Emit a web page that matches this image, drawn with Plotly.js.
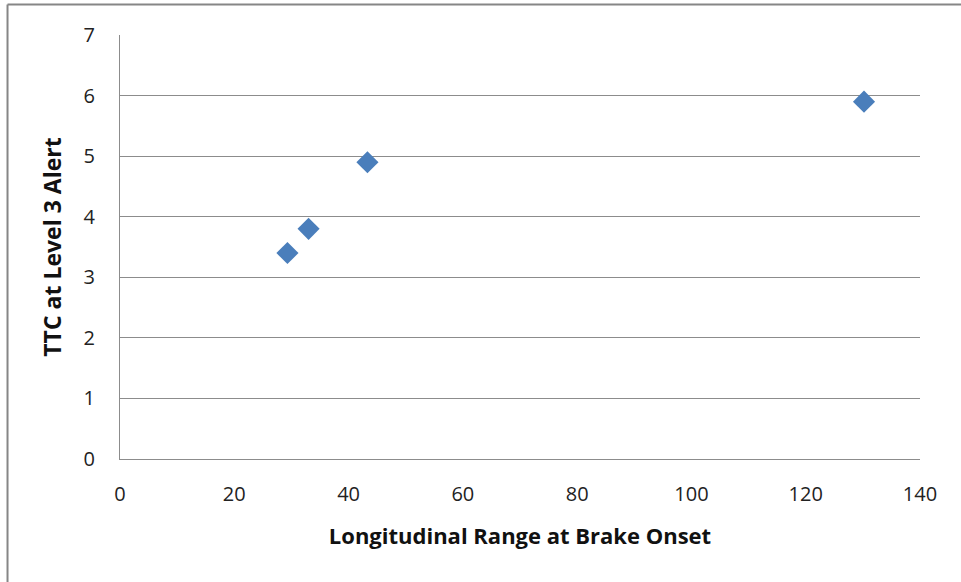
<!DOCTYPE html>
<html>
<head>
<meta charset="utf-8">
<script src="https://cdn.plot.ly/plotly-3.0.1.min.js"></script>
<style>
  html, body { margin: 0; padding: 0; background: #ffffff; }
  #chart { width: 961px; height: 582px; }
</style>
</head>
<body>
<div id="chart"></div>
<script>
// Longitudinal range at brake onset vs. time-to-collision at the level 3 alert
const rangeAtBrakeOnset = [29.3, 33.0, 43.3, 130.2];
const ttcAtLevel3Alert = [3.4, 3.8, 4.9, 5.9];
const xTicks = [0, 20, 40, 60, 80, 100, 120, 140];
const yTicks = [0, 1, 2, 3, 4, 5, 6, 7];

const tickFont = '"Open Sans", Lato, "DejaVu Sans", sans-serif';
const titleFont = '"Open Sans", Lato, "DejaVu Sans", sans-serif';
const gray = '#8c8c8c';

const trace = {
  type: 'scatter',
  mode: 'markers',
  x: rangeAtBrakeOnset,
  y: ttcAtLevel3Alert,
  marker: { symbol: 'diamond', size: 17, color: '#4a7ebb', line: { width: 0 } },
  hoverinfo: 'x+y'
};

const layout = {
  width: 961,
  height: 582,
  margin: { l: 120, r: 41, t: 35, b: 123 },
  paper_bgcolor: '#ffffff',
  plot_bgcolor: '#ffffff',
  showlegend: false,
  font: { family: tickFont, size: 20, color: '#222222' },
  xaxis: {
    range: [0, 140],
    tickvals: xTicks,
    ticktext: xTicks.map(String),
    showgrid: false,
    zeroline: false,
    showline: true,
    linecolor: gray,
    linewidth: 1,
    ticks: '',
    ticklabelstandoff: 17,
    tickfont: { family: tickFont, size: 20, color: '#222222' },
    title: { text: 'Longitudinal Range at Brake Onset', standoff: 22,
             font: { family: titleFont, size: 22, color: '#111111', weight: 'bold' } }
  },
  yaxis: {
    range: [0, 7],
    tickvals: yTicks,
    ticktext: yTicks.map(String),
    showgrid: true,
    gridcolor: gray,
    gridwidth: 1,
    zeroline: false,
    showline: true,
    linecolor: gray,
    linewidth: 1,
    ticks: '',
    ticklabelstandoff: 20,
    tickfont: { family: tickFont, size: 20, color: '#222222' },
    title: { text: 'TTC at Level 3 Alert', standoff: 15,
             font: { family: titleFont, size: 23, color: '#111111', weight: 'bold' } }
  },
  shapes: [
    // outer frame: top and left edges
    { type: 'line', xref: 'paper', yref: 'paper', x0: -0.1406, x1: 1.06, y0: 1.0719, y1: 1.0719,
      line: { color: '#868686', width: 2 } },
    { type: 'line', xref: 'paper', yref: 'paper', x0: -0.1406, x1: -0.1406, y0: 1.0719, y1: -0.30,
      line: { color: '#868686', width: 2 } }
  ]
};

Plotly.newPlot('chart', [trace], layout, { displayModeBar: false, staticPlot: true });
</script>
</body>
</html>
